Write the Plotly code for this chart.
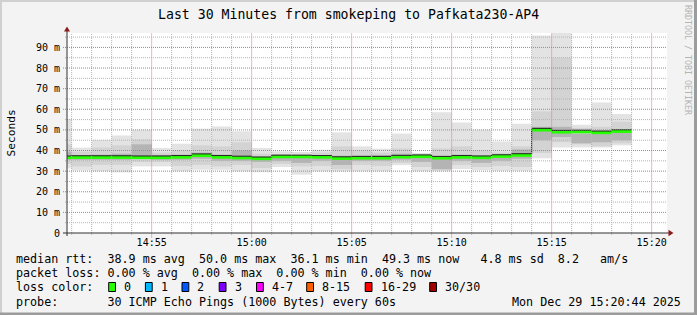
import plotly.graph_objects as go
from datetime import datetime, timedelta

# ---------------- data ----------------
DAY = "2025-12-29"
minutes = ["14:50", "14:51", "14:52", "14:53", "14:54", "14:55", "14:56", "14:57",
           "14:58", "14:59", "15:00", "15:01", "15:02", "15:03", "15:04", "15:05",
           "15:06", "15:07", "15:08", "15:09", "15:10", "15:11", "15:12", "15:13",
           "15:14", "15:15", "15:16", "15:17", "15:18"]
end_minute = "15:19"

median_ms = [36.6, 36.7, 36.7, 36.7, 36.6, 36.6, 36.8, 37.6, 36.8, 36.5,
             36.1, 37.0, 37.0, 36.8, 36.2, 36.4, 36.4, 36.9, 37.1, 36.4,
             36.8, 36.6, 37.2, 37.7, 50.0, 49.0, 49.1, 48.7, 49.3]
smoke_min = [31.3, 30.4, 29.9, 29.4, 32.3, 32.3, 29.9, 30.7, 30.7, 29.9,
             29.5, 32.0, 28.3, 29.9, 29.9, 29.9, 29.9, 32.9, 29.9, 29.9,
             31.0, 30.5, 30.2, 30.2, 36.3, 41.5, 41.5, 41.5, 42.5]
smoke_q1 = [33.5, 32.3, 33.0, 33.0, 34.5, 34.5, 32.5, 33.0, 32.3, 33.0,
            31.5, 33.5, 32.3, 32.5, 31.0, 33.0, 32.5, 34.0, 32.0, 30.5,
            33.0, 32.0, 32.5, 32.0, 38.8, 44.0, 43.0, 42.0, 43.5]
core_lo = [35.5, 35.5, 35.5, 35.5, 37.0, 35.5, 35.5, 36.0, 35.0, 35.0,
           34.5, 35.0, 34.0, 35.0, 33.0, 35.0, 35.0, 35.5, 34.5, 31.0,
           35.0, 34.0, 35.0, 36.0, 45.0, 46.5, 43.5, 44.0, 45.0]
core_hi = [39.5, 37.8, 38.0, 38.5, 43.0, 37.8, 38.0, 39.0, 38.0, 40.0,
           37.0, 37.8, 37.5, 37.8, 37.5, 37.5, 37.8, 38.5, 37.8, 36.5,
           38.0, 37.5, 38.0, 40.5, 51.5, 51.5, 48.0, 49.5, 49.0]
smoke_q3 = [43.0, 39.5, 41.5, 42.5, 45.5, 39.0, 40.0, 42.5, 42.0, 44.0,
            38.5, 38.3, 38.0, 39.0, 42.0, 40.0, 39.0, 41.0, 38.3, 41.0,
            42.0, 40.0, 39.0, 42.0, 59.0, 85.0, 51.0, 51.5, 54.0]
smoke_max = [55.4, 41.4, 45.2, 47.3, 50.1, 41.2, 43.3, 50.6, 51.7, 49.3,
             41.2, 39.6, 39.3, 40.4, 48.8, 42.0, 40.9, 48.2, 38.8, 58.5,
             53.6, 50.1, 44.4, 53.0, 95.8, 98.0, 52.5, 63.3, 57.7]

y_tick_vals = [0, 10, 20, 30, 40, 50, 60, 70, 80, 90]
y_tick_text = ["0", "10 m", "20 m", "30 m", "40 m", "50 m", "60 m", "70 m", "80 m", "90 m"]
x_tick_labels = ["14:55", "15:00", "15:05", "15:10", "15:15", "15:20"]

loss_labels = ["0", "1", "2", "3", "4-7", "8-15", "16-29", "30/30"]
loss_colors = ["#26ff00", "#00b8ff", "#0059ff", "#7e00ff", "#ff00ff", "#ff5e00", "#ff0000", "#a10000"]
loss_label_px = [124, 160.7, 197.3, 234.5, 271.8, 322, 380.5, 445]

title = "Last 30 Minutes from smokeping to Pafkata230-AP4"
line_rtt = "median rtt:  38.9 ms avg  50.0 ms max  36.1 ms min  49.3 ms now   4.8 ms sd  8.2   am/s"
line_loss = "packet loss: 0.00 % avg  0.00 % max  0.00 % min  0.00 % now"
line_probe = "probe:       30 ICMP Echo Pings (1000 Bytes) every 60s"
stamp = "Mon Dec 29 15:20:44 2025"

# ---------------- geometry ----------------
W, H = 697, 315
L, R, T, B = 67, 30, 33, 82
PW, PH = W - L - R, H - T - B
MONO = "DejaVu Sans Mono"


def xp(px):
    return (px - L) / PW


def yp(py):
    return (H - B - py) / PH


def ts(hm, sec="00"):
    return f"{DAY} {hm}:{sec}"


centers = [ts(m, "30") for m in minutes]
starts = [ts(m) for m in minutes]
ends = starts[1:] + [ts(end_minute)]

fig = go.Figure()


def smoke(lo, hi, color):
    fig.add_trace(go.Bar(
        x=centers, base=lo, y=[h - l for l, h in zip(lo, hi)],
        width=60000, marker=dict(color=color, line=dict(width=0)),
        hoverinfo="skip", showlegend=False))


smoke(smoke_min, smoke_max, "#e3e3e3")
smoke(smoke_q1, smoke_q3, "#d3d3d3")
smoke(core_lo, core_hi, "#b4b4b4")

# green median band (horizontal segments only)
gx, gy = [], []
for s, e, m in zip(starts, ends, median_ms):
    gx += [s, e, None]
    gy += [m, m, None]
fig.add_trace(go.Scatter(x=gx, y=gy, mode="lines", line=dict(color="#26ff00", width=3.2),
                         hoverinfo="skip", showlegend=False))
# thin dark step line on top edge of the median band
fig.add_trace(go.Scatter(x=starts + [ends[-1]], y=[m + 0.75 for m in median_ms] + [median_ms[-1] + 0.75],
                         mode="lines", line=dict(color="#222222", width=1, shape="hv"),
                         hoverinfo="skip", showlegend=False))

shapes = []
MAJ = "rgb(214,112,112)"
MIN = "rgb(180,180,180)"
# vertical grid each minute
t0 = datetime(2025, 12, 29, 14, 51)
for i in range(30):
    t = t0 + timedelta(minutes=i)
    major = t.minute % 5 == 0
    shapes.append(dict(type="line", xref="x", yref="paper", x0=t, x1=t,
                       y0=yp(237.5 if major else 235), y1=1,
                       line=dict(color=MAJ if major else MIN, width=1, dash="1px,1px"), layer="above"))
# horizontal grid each 5 ms
for v in range(5, 100, 5):
    major = v % 10 == 0
    shapes.append(dict(type="line", xref="paper", yref="y", x0=xp(63 if major else 65), x1=1,
                       y0=v, y1=v,
                       line=dict(color=MAJ if major else MIN, width=1, dash="1px,1px"), layer="above"))
# axes
AX = "#303030"
shapes.append(dict(type="line", xref="paper", yref="paper", x0=xp(63), x1=xp(669), y0=0, y1=0,
                   line=dict(color=AX, width=1), layer="above"))
shapes.append(dict(type="line", xref="paper", yref="paper", x0=0, x1=0, y0=yp(236), y1=yp(31),
                   line=dict(color=AX, width=1), layer="above"))
ARW = "#8b1a1a"
shapes.append(dict(type="path", xref="paper", yref="paper",
                   path=f"M {xp(64)},{yp(31.5)} L {xp(67)},{yp(26.5)} L {xp(70)},{yp(31.5)} Z",
                   fillcolor=ARW, line=dict(width=0), layer="above"))
shapes.append(dict(type="path", xref="paper", yref="paper",
                   path=f"M {xp(668.5)},{yp(229.8)} L {xp(673.5)},{yp(233)} L {xp(668.5)},{yp(236.2)} Z",
                   fillcolor=ARW, line=dict(width=0), layer="above"))
# image frame
for x0, x1, y0, y1, c in [(0, 2, 0, 315, "#d0d0d0"), (0, 697, 0, 2, "#d0d0d0"),
                          (694, 697, 0, 315, "#9c9c9c"), (0, 697, 312.5, 315, "#9c9c9c")]:
    shapes.append(dict(type="rect", xref="paper", yref="paper", x0=xp(x0), x1=xp(x1),
                       y0=yp(y1), y1=yp(y0), fillcolor=c, line=dict(width=0), layer="above"))
# loss color swatches
for lx, c in zip(loss_label_px, loss_colors):
    shapes.append(dict(type="rect", xref="paper", yref="paper", x0=xp(lx - 15.3), x1=xp(lx - 8.5),
                       y0=yp(291.5), y1=yp(282.5), fillcolor=c, line=dict(color="#000000", width=1),
                       layer="above"))

annotations = []


def txt(px, py, text, size, xanchor="left", color="#000000", angle=0):
    annotations.append(dict(xref="paper", yref="paper", x=xp(px), y=yp(py),
                            text=text.replace(" ", "\u00a0"), showarrow=False,
                            xanchor=xanchor, yanchor="middle", textangle=angle,
                            borderpad=0, borderwidth=0,
                            font=dict(family=MONO, size=size, color=color)))


txt(348.5, 14, title, 13.2, xanchor="center")
txt(10.5, 133, "Seconds", 11.2, xanchor="center", angle=-90)
txt(688, 60, "RRDTOOL / TOBI OETIKER", 8.3, xanchor="center", color="#b4b4b4", angle=90)
txt(16, 259, line_rtt, 11.7)
txt(16, 273.3, line_loss, 11.7)
txt(16, 287.3, "loss color:", 11.7)
for lx, lab in zip(loss_label_px, loss_labels):
    txt(lx, 287.3, lab, 11.7)
txt(16, 301.7, line_probe, 11.7)
txt(681, 301.7, stamp, 11.7, xanchor="right")

fig.update_layout(
    width=W, height=H, margin=dict(l=L, r=R, t=T, b=B, autoexpand=False),
    paper_bgcolor="#f3f3f3", plot_bgcolor="#ffffff",
    barmode="overlay", showlegend=False,
    shapes=shapes, annotations=annotations,
    xaxis=dict(type="date", range=[ts("14:50", "46"), ts("15:20", "46")],
               tickvals=[ts(t) for t in x_tick_labels], ticktext=x_tick_labels,
               showgrid=False, zeroline=False, showline=False, ticks="",
               ticklabelstandoff=2,
               tickfont=dict(family=MONO, size=10, color="#000000"), automargin=False),
    yaxis=dict(range=[0, PH / 2.062], tickvals=y_tick_vals, ticktext=y_tick_text,
               showgrid=False, zeroline=False, showline=False, ticks="",
               ticklabelstandoff=6,
               tickfont=dict(family=MONO, size=10, color="#000000"), automargin=False),
)

fig.write_html("out.html")
